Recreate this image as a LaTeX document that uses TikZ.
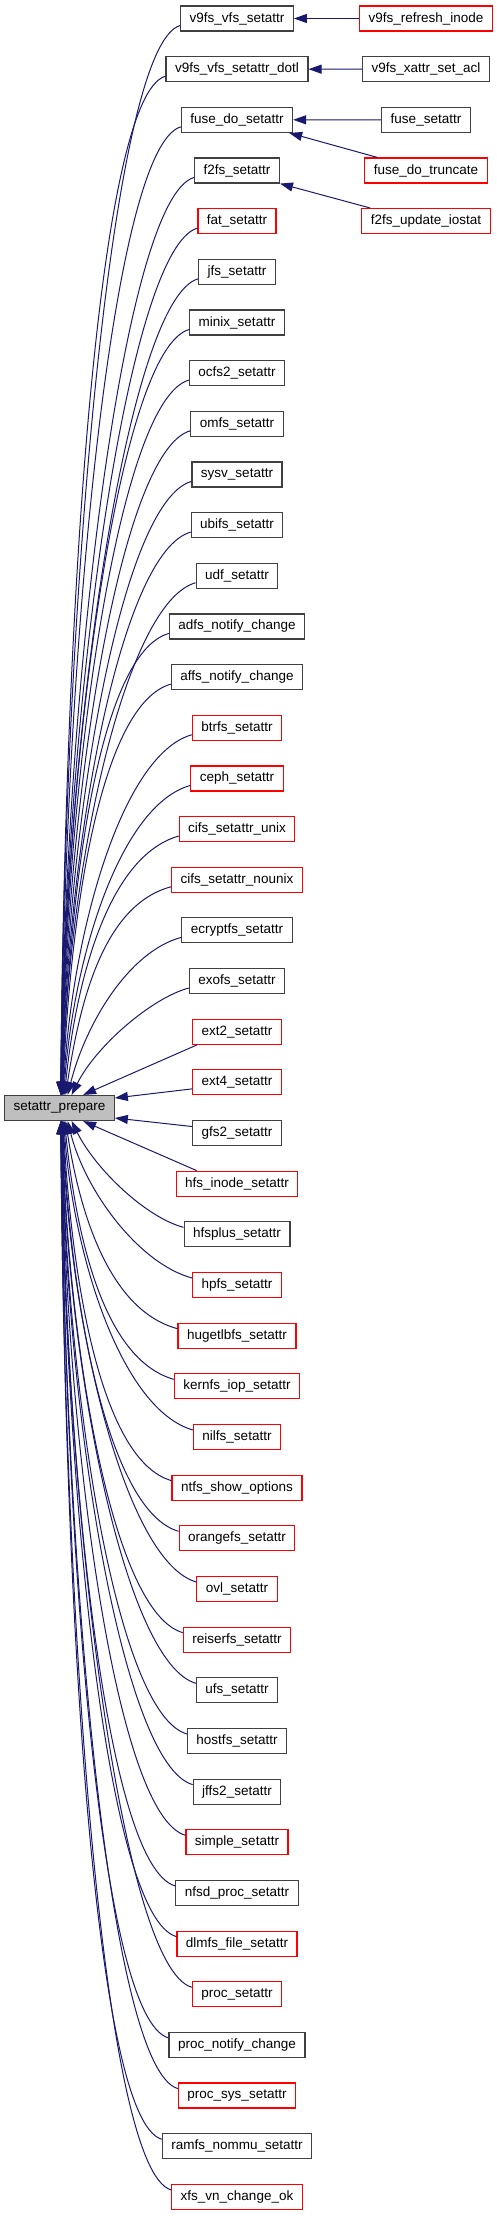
\documentclass[tikz,border=0pt]{standalone}
\usepackage{fontspec}
\setmainfont{Liberation Sans}
\usetikzlibrary{arrows.meta,positioning,calc}
\definecolor{edgeblue}{RGB}{25,25,112}
\definecolor{cutred}{RGB}{255,0,0}
\definecolor{boxline}{RGB}{64,64,64}
\definecolor{mainfill}{RGB}{191,191,191}

\begin{document}
\begin{tikzpicture}[x=1pt, y=-1pt,
  fnbox/.style={draw=boxline, line width=1.2pt, fill=white, minimum height=25pt,
                inner xsep=9pt, inner ysep=0pt, font=\fontsize{13.5}{16}\selectfont},
  cutbox/.style={fnbox, draw=cutred},
  mainbox/.style={fnbox, fill=mainfill},
  call/.style={draw=edgeblue, line width=1pt, -{Triangle[length=13pt, width=9pt]}},
]
\useasboundingbox (0,0) rectangle (497,2216);

% callee
\node[mainbox] (prep) at (59.5,1108) {setattr\_prepare};

% callers
\foreach \i/\name/\kind in {0/v9fs\_vfs\_setattr/fnbox, 1/v9fs\_vfs\_setattr\_dotl/fnbox,
    2/fuse\_do\_setattr/fnbox, 3/f2fs\_setattr/fnbox, 4/fat\_setattr/cutbox,
    5/jfs\_setattr/fnbox, 6/minix\_setattr/fnbox, 7/ocfs2\_setattr/fnbox,
    8/omfs\_setattr/fnbox, 9/sysv\_setattr/fnbox, 10/ubifs\_setattr/fnbox,
    11/udf\_setattr/fnbox, 12/adfs\_notify\_change/fnbox, 13/affs\_notify\_change/fnbox,
    14/btrfs\_setattr/cutbox, 15/ceph\_setattr/cutbox, 16/cifs\_setattr\_unix/cutbox,
    17/cifs\_setattr\_nounix/cutbox, 18/ecryptfs\_setattr/fnbox, 19/exofs\_setattr/fnbox,
    20/ext2\_setattr/cutbox, 21/ext4\_setattr/cutbox, 22/gfs2\_setattr/fnbox,
    23/hfs\_inode\_setattr/cutbox, 24/hfsplus\_setattr/fnbox, 25/hpfs\_setattr/cutbox,
    26/hugetlbfs\_setattr/cutbox, 27/kernfs\_iop\_setattr/cutbox, 28/nilfs\_setattr/cutbox,
    29/ntfs\_show\_options/cutbox, 30/orangefs\_setattr/cutbox, 31/ovl\_setattr/cutbox,
    32/reiserfs\_setattr/cutbox, 33/ufs\_setattr/fnbox, 34/hostfs\_setattr/fnbox,
    35/jffs2\_setattr/fnbox, 36/simple\_setattr/cutbox, 37/nfsd\_proc\_setattr/fnbox,
    38/dlmfs\_file\_setattr/cutbox, 39/proc\_setattr/cutbox, 40/proc\_notify\_change/fnbox,
    41/proc\_sys\_setattr/cutbox, 42/ramfs\_nommu\_setattr/fnbox, 43/xfs\_vn\_change\_ok/cutbox} {
  \node[\kind] (n\i) at (237, {18.5+50.66*\i}) {\name};
}

% second level callers
\node[cutbox] (refresh) at (426, 18.5) {v9fs\_refresh\_inode};
\node[fnbox] (setacl) at (426, 69.2) {v9fs\_xattr\_set\_acl};
\node[fnbox] (fusesetattr) at (426, 119.8) {fuse\_setattr};
\node[cutbox] (truncate) at (426, 170.5) {fuse\_do\_truncate};
\node[cutbox] (iostat) at (426, 221.1) {f2fs\_update\_iostat};

\draw[call] (refresh) -- (n0);
\draw[call] (setacl) -- (n1);
\draw[call] (fusesetattr) -- (n2);
\draw[call] ([xshift=13pt]truncate.north west) -- ([xshift=-4pt]n2.south east);
\draw[call] ([xshift=9pt]iostat.north west) -- (n3.south east);

% calls from above
\foreach \i in {0,...,19} {
  \pgfmathsetmacro\rd{21.5-\i}
  \pgfmathsetmacro\tx{55.5+24/(\rd-0.5)}
  \pgfmathsetmacro\ca{min(70,15*\rd)}
  \pgfmathsetmacro\cb{7+min(20,4*\rd)}
  \pgfmathsetmacro\px{\tx+72/(\rd+0.5)}
  \pgfmathsetmacro\py{0.45*(50.66*\rd-19.2)}
  \draw[call] ([yshift=-7pt]n\i.west) .. controls ([xshift=-\ca, yshift=-\cb]n\i.west)
    and ([xshift=\px, yshift=\py]prep.north west) .. ([xshift=\tx]prep.north west);
}
\draw[call] ([xshift=5pt]n20.south west) -- ([xshift=79pt]prep.north west);
\draw[call] ([yshift=-6.5pt]n21.west) -- ([yshift=10pt]prep.east);

% calls from below
\draw[call] ([yshift=6.5pt]n22.west) -- ([yshift=-10pt]prep.east);
\draw[call] ([xshift=21pt]n23.north west) -- ([xshift=79pt]prep.south west);
\foreach \i in {24,...,43} {
  \pgfmathsetmacro\rd{\i-21.5}
  \pgfmathsetmacro\tx{55.5+24/(\rd-0.5)}
  \pgfmathsetmacro\ca{min(70,15*\rd)}
  \pgfmathsetmacro\cb{7+min(20,4*\rd)}
  \pgfmathsetmacro\px{\tx+72/(\rd+0.5)}
  \pgfmathsetmacro\py{0.45*(50.66*\rd-19.2)}
  \draw[call] ([yshift=7pt]n\i.west) .. controls ([xshift=-\ca, yshift=\cb]n\i.west)
    and ([xshift=\px, yshift=-\py]prep.south west) .. ([xshift=\tx]prep.south west);
}
\end{tikzpicture}
\end{document}
